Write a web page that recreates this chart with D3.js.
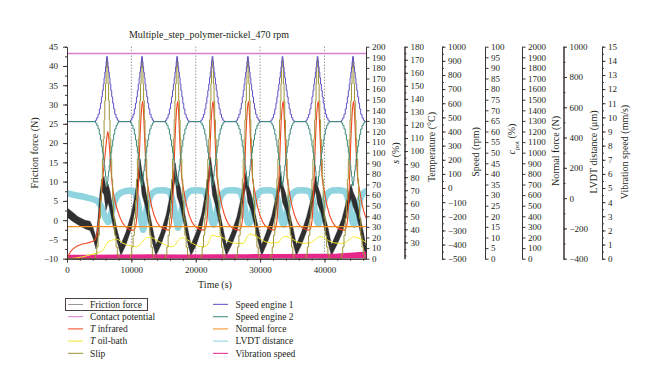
<!DOCTYPE html>
<html>
<head>
<meta charset="utf-8">
<script src="https://cdn.jsdelivr.net/npm/d3@7"></script>
<style>
  body { margin: 0; background: #fff; }
  svg text { font-family: "Liberation Serif", "DejaVu Serif", serif; fill: #231f20; }
  .axis text { font-size: 9px; }
  .axis path, .axis line { stroke: #3d3535; stroke-width: 1; }
  .grid line { stroke: #6a6a6a; stroke-dasharray: 1 2; }
</style>
</head>
<body>
<div id="chart"></div>
<script>
(function () {

  // ---- data ----
  var timeMax = 46450,
    xTicks = [0, 10000, 20000, 30000, 40000],
    // centre of each of the eight speed steps (s)
    peakTimes = [6220, 11660, 17110, 22600, 28100, 33480, 38930, 44430];

  // one speed step of the program, offsets from the step centre (s)
  var stepOffsets = [-1900, -1700, -1500, -1300, -1100, -950, -800, -650, -520, -400, -290, -190, -100, -30,
    30, 100, 190, 290, 400, 520, 650, 800, 950, 1100, 1300, 1500, 1700, 1900];
  var speed1Step = [470, 480, 497, 522, 560, 600, 645, 690, 735, 780, 820, 858, 895, 930,
    930, 895, 858, 820, 780, 735, 690, 645, 600, 560, 522, 497, 480, 470];
  var speed2Step = [470, 460, 443, 418, 380, 340, 295, 250, 205, 160, 120, 82, 45, 18,
    18, 45, 82, 120, 160, 205, 250, 295, 340, 380, 418, 443, 460, 470];
  var slipStep = [0, 4, 11, 22, 38, 55, 75, 94, 113, 131, 149, 165, 180, 188,
    188, 180, 165, 149, 131, 113, 94, 75, 55, 38, 22, 11, 4, 0];

  // friction force (N) is a noisy band -> lower and upper edge
  var frictionTime = [0, 780, 1710, 2800, 3580, 4040, 4510, 4820, 5130, 5440, 5750, 6060, 6380, 6690, 7150, 7780, 8370,
    9160, 9960, 10560, 11060, 11360, 11660, 12160, 12760, 13360, 13810,
    14610, 15410, 16010, 16510, 16810, 17110, 17610, 18210, 18810, 19260,
    20100, 20900, 21500, 22000, 22300, 22600, 23100, 23700, 24300, 24750,
    25600, 26400, 27000, 27500, 27800, 28100, 28600, 29200, 29800, 30250,
    30980, 31780, 32380, 32880, 33180, 33480, 33980, 34580, 35180, 35630,
    36430, 37230, 37830, 38330, 38630, 38930, 39430, 40030, 40630, 41080,
    41930, 42730, 43330, 43830, 44130, 44430, 44930, 45530, 46100, 46450];
  var frictionLow = [0.8, -0.2, -1.2, -2.2, -2.7, -4.6, -7.5, -4.5, 3.6, 7.5, 6.6, 2.6, 4.6, 2.6, -1.4, -5.5, -9.2,
    -6.4, -2.4, 2.6, 9.1, 11.6, 6.6, 3.6, -1.4, -6.4, -9.2,
    -6.4, -2.4, 2.6, 8.1, 10.6, 6.1, 3.6, -1.4, -6.4, -9.2,
    -6.4, -2.4, 3.1, 9.6, 12.1, 6.6, 3.6, -1.4, -6.4, -9.2,
    -6.4, -2.9, 1.6, 6.6, 8.6, 4.6, 2.6, -1.9, -6.4, -9.2,
    -6.4, -2.9, 1.6, 6.6, 8.6, 4.6, 2.6, -1.9, -6.4, -9.2,
    -6.4, -2.9, 1.1, 5.6, 7.6, 4.1, 2.1, -2.4, -6.4, -9.2,
    -6.4, -3.4, 0.6, 4.1, 5.6, 3.6, 1.6, -2.9, -7.4, -9.2];
  var frictionHigh = [3.2, 2.2, 0.9, 0, -0.3, -1.9, -4.5, 0.4, 7.4, 10.5, 11.4, 8.4, 9.4, 7.4, 2.4, -2.5, -6.4,
    -3.1, 1.4, 6.4, 12.4, 15.9, 12.4, 8.4, 2.4, -2.6, -6.4,
    -3.1, 1.4, 6.4, 11.4, 14.9, 11.4, 8.4, 2.4, -2.6, -6.4,
    -3.1, 1.4, 6.9, 12.9, 16.4, 12.4, 8.4, 2.4, -2.6, -6.4,
    -3.1, 0.9, 5.4, 9.9, 12.4, 9.4, 6.9, 1.9, -2.6, -6.4,
    -3.1, 0.9, 5.4, 9.9, 12.4, 9.4, 6.9, 1.9, -2.6, -6.4,
    -3.1, 0.9, 4.9, 8.9, 11.4, 8.9, 6.4, 1.4, -2.6, -6.4,
    -3.1, 0.4, 4.4, 7.4, 9.4, 7.4, 5.4, 0.9, -3.6, -6.8];

  // T infrared (°C): run-in and first step, then the shape of steps 2..8
  var tInfraredTime = [0, 200, 500, 900, 1500, 2200, 3000, 3800, 4300, 4600, 4900, 5200, 5500, 5800, 6100, 6350,
    6500, 6750, 7050, 7450, 7950, 8550, 9300, 10000];
  var tInfraredFirst = [17.5, 19.6, 22.5, 24.9, 27.0, 28.4, 29.3, 30.5, 31.7, 35.2, 44.1, 58.9, 76.6, 91.4, 106.1, 115,
    109.1, 91.4, 73.6, 61.8, 53, 45.6, 41.1, 39.4];
  var tInfraredOffsets = [-1300, -1000, -800, -600, -450, -300, -150, 0, 120, 280, 480, 720, 1000, 1500, 2300, 3100];
  var tInfraredStep = [39.4, 42.6, 50, 70.7, 91.4, 112.1, 126.9, 135.7, 138.1, 123.9, 100.2, 79.6, 70.7, 57.4, 45.6, 41.1];

  // T oil-bath (°C)
  var tOilTime = [0, 1500, 3000, 4000, 5000, 5600, 6000, 6400, 7000, 7800, 8700, 9800, 10700, 11300, 11900,
    12500, 13200, 14000, 15000, 16200, 16700, 17300, 17900, 18600, 19500, 20500, 21400, 22100, 22500, 23300,
    24000, 25000, 26200, 27400, 27900, 28400, 29000, 29800, 30800, 31800, 32800, 33300, 33800, 34400, 35300,
    36300, 37500, 38600, 39200, 39800, 40600, 41600, 42800, 43900, 44500, 45200, 46450];
  var tOil = [17.5, 18.1, 19.6, 21.0, 22.5, 24.0, 27.8, 30.5, 31.7, 32.3, 29.3, 27.5, 26.7, 28.1, 31.7,
    33.8, 33.5, 31.4, 28.7, 26.7, 27.5, 31.7, 33.5, 32.3, 29.3, 27.0, 26.7, 30.8, 35.5, 34.6,
    34.1, 31.1, 29.3, 29.3, 33.5, 36.4, 35.5, 33.5, 30.5, 29.6, 29.9, 32.9, 34.6, 34.1, 31.7,
    29.6, 29.3, 32.3, 34.3, 33.8, 31.4, 29.6, 29.3, 32.3, 34.3, 33.5, 29.9];

  // LVDT distance (µm): first step, then shape of steps 2..8 (null = bottom of the dip)
  var lvdtTime = [0, 1240, 2800, 3900, 4700, 5300, 5900, 6400, 6850, 7300, 7900, 8900, 10000];
  var lvdtFirst = [33, 20, 7, -5, -18, -56, -120, -158, -107, -31, 20, 45, 50];
  var lvdtOffsets = [-1300, -1000, -700, -400, -100, 150, 450, 800, 1200, 1700, 2300, 3200];
  var lvdtStep = [45, 25, -20, -90, -150, null, -140, -60, 5, 35, 50, 52];
  var lvdtDips = [-209, -196, -175, -171, -175, -171, -175];

  // vibration speed (mm/s), thin band near zero
  var vibTime = [0, 40, 3000, 8000, 13000, 18000, 23000, 28000, 33000, 38000, 42000, 45000, 46450];
  var vibLow = [0.05, 0.05, 0.04, 0.05, 0.05, 0.05, 0.05, 0.06, 0.06, 0.06, 0.07, 0.08, 0.1];
  var vibHigh = [7.5, 0.25, 0.22, 0.24, 0.26, 0.25, 0.27, 0.27, 0.28, 0.3, 0.32, 0.4, 0.45];

  // constant channels
  var contactPotential = [96.8, 96.8],
    normalForce = [302, 302];

  var legendLeft = ["Friction force", "Contact potential", "T infrared", "T oil-bath", "Slip"],
    legendRight = ["Speed engine 1", "Speed engine 2", "Normal force", "LVDT distance", "Vibration speed"];

  // ---- layout / styles ----
  var w = 660, h = 390,
    left = 67, right = 366, top = 46.7, bottom = 258.7,
    colors = {
      "Friction force": "#1e1e1e",
      "Contact potential": "#d77fce",
      "T infrared": "#f2461f",
      "T oil-bath": "#f1e92a",
      "Slip": "#9f9436",
      "Speed engine 1": "#5d52c3",
      "Speed engine 2": "#3d8b7c",
      "Normal force": "#f68f22",
      "LVDT distance": "#8fd4df",
      "Vibration speed": "#e6288a"
    },
    svg, x, yF, yS, yT, ySpeed, yC, yN, yL, yV, plot;

  function makeChart() {
    createSvg();
    createScales();
    drawGrid();
    drawSeries();
    drawAxes();
    drawTexts();
    drawLegend();
  }

  function createSvg() {
    svg = d3.select("#chart").append("svg")
      .attr("width", w)
      .attr("height", h);
    svg.append("clipPath").attr("id", "plotClip")
      .append("rect")
      .attr("x", left).attr("y", top)
      .attr("width", right - left).attr("height", bottom - top);
  }

  // every channel has its own axis, all share the same pixel height
  function createScales() {
    var r = [bottom, top];
    x = d3.scaleLinear().domain([0, timeMax]).range([left, right]);
    yF = d3.scaleLinear().domain([-10, 45]).range(r);
    yS = d3.scaleLinear().domain([0, 200]).range(r);
    yT = d3.scaleLinear().domain([17.5, 180]).range(r);
    ySpeed = d3.scaleLinear().domain([-500, 1000]).range(r);
    yC = d3.scaleLinear().domain([0, 100]).range(r);
    yN = d3.scaleLinear().domain([0, 2000]).range(r);
    yL = d3.scaleLinear().domain([-400, 1000]).range(r);
    yV = d3.scaleLinear().domain([0, 15]).range(r);
  }

  function drawGrid() {
    svg.append("g").attr("class", "grid")
      .selectAll("line")
      .data(xTicks.slice(1)).enter()
      .append("line")
      .attr("x1", function (d) { return x(d); })
      .attr("x2", function (d) { return x(d); })
      .attr("y1", top).attr("y2", bottom);
  }

  function stepSeries(start, offsets, values, peaks, end) {
    var pts = start.slice();
    peaks.forEach(function (p, k) {
      offsets.forEach(function (o, i) {
        var v = values[i];
        if (v === null) { v = lvdtDips[k]; }
        pts.push([p + o, v]);
      });
    });
    return pts.concat(end || []);
  }

  function lineOn(scale, curve) {
    return d3.line()
      .x(function (d) { return x(d[0]); })
      .y(function (d) { return scale(d[1]); })
      .curve(curve || d3.curveLinear);
  }

  function addPath(pts, scale, color, width, curve) {
    plot.append("path")
      .datum(pts)
      .attr("fill", "none")
      .attr("stroke", color)
      .attr("stroke-width", width)
      .attr("stroke-linejoin", "round")
      .attr("d", lineOn(scale, curve));
  }

  function drawSeries() {
    plot = svg.append("g").attr("clip-path", "url(#plotClip)");

    // LVDT distance (thick noisy trace)
    var lvdt = stepSeries(d3.zip(lvdtTime, lvdtFirst), lvdtOffsets, lvdtStep, peakTimes.slice(1));
    addPath(lvdt, yL, colors["LVDT distance"], 6.5, d3.curveMonotoneX);

    // friction force band
    var fr = frictionTime.map(function (t, i) { return [t, frictionLow[i], frictionHigh[i]]; });
    plot.append("path")
      .datum(fr)
      .attr("fill", colors["Friction force"])
      .attr("fill-opacity", 0.92)
      .attr("stroke", colors["Friction force"])
      .attr("stroke-width", 0.4)
      .attr("d", d3.area()
        .x(function (d) { return x(d[0]); })
        .y0(function (d) { return yF(d[1]); })
        .y1(function (d) { return yF(d[2]); }));

    // vibration speed band
    var vib = vibTime.map(function (t, i) { return [t, vibLow[i], vibHigh[i]]; });
    plot.append("path")
      .datum(vib)
      .attr("fill", colors["Vibration speed"])
      .attr("stroke", colors["Vibration speed"])
      .attr("stroke-width", 1.5)
      .attr("d", d3.area()
        .x(function (d) { return x(d[0]); })
        .y0(function (d) { return yV(d[1]); })
        .y1(function (d) { return yV(d[2]); }));

    addPath(d3.zip(tOilTime, tOil), yT, colors["T oil-bath"], 1, d3.curveMonotoneX);

    var tir = stepSeries(d3.zip(tInfraredTime, tInfraredFirst), tInfraredOffsets, tInfraredStep, peakTimes.slice(1));
    addPath(tir, yT, colors["T infrared"], 1.1, d3.curveMonotoneX);

    var base = [[0, 470]], baseEnd = [[timeMax, 470]];
    addPath(stepSeries([[0, 0]], stepOffsets, slipStep, peakTimes, [[timeMax, 0]]), yS, colors["Slip"], 1, d3.curveStep);
    addPath(stepSeries(base, stepOffsets, speed1Step, peakTimes, baseEnd), ySpeed, colors["Speed engine 1"], 1, d3.curveStep);
    addPath(stepSeries(base, stepOffsets, speed2Step, peakTimes, baseEnd), ySpeed, colors["Speed engine 2"], 1, d3.curveStep);

    addPath(d3.zip([0, timeMax], normalForce), yN, colors["Normal force"], 1.3);
    addPath(d3.zip([0, timeMax], contactPotential), yC, colors["Contact potential"], 1.3);
  }

  function drawRightAxis(xPos, scale, major, minor) {
    var g = svg.append("g").attr("class", "axis")
      .attr("transform", "translate(" + xPos + ",0)");
    if (minor) {
      g.append("g").call(d3.axisRight(scale).tickValues(minor).tickSize(2).tickSizeOuter(0).tickFormat(""));
    }
    g.append("g").call(d3.axisRight(scale).tickValues(major).tickSize(3.5).tickSizeOuter(0)
      .tickPadding(2.5).tickFormat(d3.format("d")));
  }

  function drawAxes() {
    var gx = svg.append("g").attr("class", "axis")
      .attr("transform", "translate(0," + bottom + ")");
    gx.append("g").call(d3.axisBottom(x).tickValues(d3.range(0, timeMax, 2000)).tickSize(2).tickSizeOuter(0).tickFormat(""));
    gx.append("g").call(d3.axisBottom(x).tickValues(xTicks).tickSize(4).tickSizeOuter(0).tickPadding(4).tickFormat(d3.format("d")));

    var gy = svg.append("g").attr("class", "axis")
      .attr("transform", "translate(" + left + ",0)");
    gy.append("g").call(d3.axisLeft(yF).tickValues(d3.range(-10, 45.1, 2.5)).tickSize(2).tickSizeOuter(0).tickFormat(""));
    gy.append("g").call(d3.axisLeft(yF).tickValues(d3.range(-10, 45.1, 5)).tickSize(4).tickSizeOuter(0).tickPadding(5).tickFormat(d3.format("d")));

    drawRightAxis(366, yS, d3.range(0, 200.1, 10));
    drawRightAxis(404.5, yT, d3.range(30, 180.1, 10), d3.range(20, 180.1, 5));
    drawRightAxis(442, ySpeed, d3.range(-500, 1000.1, 100), d3.range(-500, 1000.1, 50));
    drawRightAxis(485, yC, d3.range(0, 100.1, 5));
    drawRightAxis(522, yN, d3.range(0, 2000.1, 100));
    drawRightAxis(563.5, yL, d3.range(-400, 1000.1, 200), d3.range(-400, 1000.1, 100));
    drawRightAxis(602, yV, d3.range(0, 15.1, 1), d3.range(0, 15.1, 0.5));
  }

  // rotated axis titles, parts = [text, style]
  function vTitle(xPos, yPos, parts) {
    var t = svg.append("text")
      .attr("transform", "translate(" + xPos + "," + yPos + ") rotate(-90)")
      .attr("text-anchor", "middle")
      .style("font-size", "10px");
    parts.forEach(function (p) {
      var s = t.append("tspan").text(p[0]);
      if (p[1] === "i") { s.style("font-style", "italic"); }
      if (p[1] === "sub") { s.attr("baseline-shift", "sub").style("font-size", "7px"); }
    });
  }

  function drawTexts() {
    svg.append("text")
      .attr("x", 209).attr("y", 38)
      .attr("text-anchor", "middle")
      .style("font-size", "10px")
      .text("Multiple_step_polymer-nickel_470 rpm");

    svg.append("text")
      .attr("x", 215).attr("y", 288)
      .attr("text-anchor", "middle")
      .style("font-size", "10px")
      .text("Time (s)");

    vTitle(38, 153, [["Friction force (N)"]]);
    vTitle(398.5, 153, [["s", "i"], [" (%)"]]);
    vTitle(435, 147, [["Temperature (°C)"]]);
    vTitle(479, 152, [["Speed (rpm)"]]);
    vTitle(515, 139, [["c", "i"], ["pot", "sub"], [" (%)"]]);
    vTitle(558.5, 151, [["Normal force (N)"]]);
    vTitle(597, 152, [["LVDT distance (μm)"]]);
    vTitle(627.5, 152, [["Vibration speed (mm/s)"]]);
  }

  function legendItem(g, name, lx, tx, ly) {
    var isFriction = name === "Friction force";
    g.append("rect")
      .attr("x", lx).attr("y", ly - (isFriction ? 0.4 : 0.6))
      .attr("width", 15).attr("height", isFriction ? 0.8 : 1.2)
      .attr("fill", isFriction ? "#666" : colors[name])
      .attr("fill-opacity", 0.85);
    var t = g.append("text")
      .attr("x", tx).attr("y", ly + 3.3)
      .style("font-size", "9.5px");
    if (name.indexOf("T ") === 0) {
      t.append("tspan").style("font-style", "italic").text("T");
      t.append("tspan").text(name.slice(1));
    } else {
      t.text(name);
    }
  }

  function drawLegend() {
    var g = svg.append("g");
    g.append("rect")
      .attr("x", 65.5).attr("y", 298.5)
      .attr("width", 82).attr("height", 12)
      .attr("fill", "none")
      .attr("stroke", "#4a4040")
      .attr("stroke-width", 1);
    legendLeft.forEach(function (n, i) { legendItem(g, n, 68, 90, 304.4 + i * 12.25); });
    legendRight.forEach(function (n, i) { legendItem(g, n, 213, 235.5, 304.4 + i * 12.25); });
  }

  makeChart();
})();
</script>
</body>
</html>
